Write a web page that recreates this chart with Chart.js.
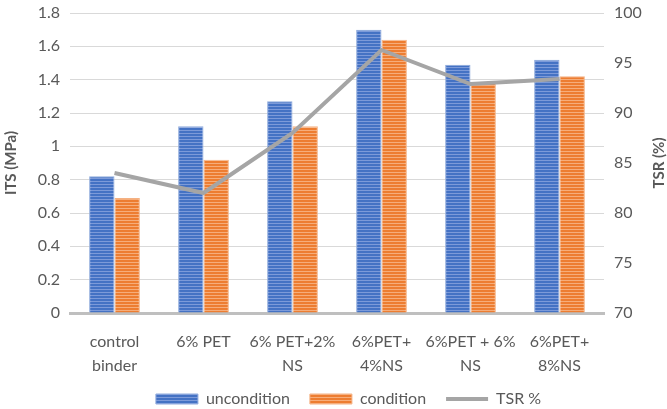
<!DOCTYPE html>
<html>
<head>
<meta charset="utf-8">
<script src="https://cdn.jsdelivr.net/npm/chart.js@4"></script>
<style>
  body { margin: 0; background: #fff; }
  #wrap { width: 667px; height: 409px; }
</style>
</head>
<body>
<div id="wrap"><canvas id="itsChart" width="667" height="409"></canvas></div>
<script>
const labels = [
    ['control', 'binder'],
    '6% PET',
    ['6% PET+2%', 'NS'],
    ['6%PET+', '4%NS'],
    ['6%PET + 6%', 'NS'],
    ['6%PET+', '8%NS']
]
const uncondition = [0.82, 1.12, 1.27, 1.70, 1.49, 1.52]
const condition = [0.69, 0.92, 1.12, 1.64, 1.38, 1.42]
const tsr = [84.0, 82.0, 88.0, 96.3, 92.9, 93.4]

// striped fills like the excel bars
function stripes(base, light) {
    const c = document.createElement('canvas')
    c.width = 4
    c.height = 3
    const g = c.getContext('2d')
    g.fillStyle = base
    g.fillRect(0, 0, 4, 3)
    g.fillStyle = light
    g.fillRect(0, 1, 4, 1)
    return g.createPattern(c, 'repeat')
}

const ctx = document.getElementById('itsChart').getContext('2d')
const blue = stripes('#4472C4', '#7c9ad9')
const orange = stripes('#ED7D31', '#f6ad7a')
const font = { family: 'Lato', size: 16 }
const titleFont = { family: 'Lato', size: 15, weight: 'bold' }

// right axis title reads bottom-to-top like excel
const rightTitle = {
    id: 'rightTitle',
    afterLayout(chart) {
        // let the two-line x labels run down into the legend band
        chart.scales.x.bottom = chart.height
        chart.legend.left += 14
        chart.legend.right += 14
    },
    afterDraw(chart) {
        const a = chart.chartArea
        const c = chart.ctx
        c.save()
        c.translate(659, (a.top + a.bottom) / 2)
        c.rotate(-Math.PI / 2)
        c.font = 'bold 15px Lato'
        c.fillStyle = '#595959'
        c.textAlign = 'center'
        c.textBaseline = 'middle'
        c.fillText('TSR (%)', 0, 0)
        c.restore()
    }
}

const data = {
    labels,
    datasets: [
        {
            type: 'line',
            label: 'TSR %',
            data: tsr,
            yAxisID: 'y1',
            borderColor: '#A5A5A5',
            backgroundColor: '#A5A5A5',
            borderWidth: 4,
            pointRadius: 0,
            tension: 0,
            pointStyle: 'line',
            order: 0,
        },
        {
            label: 'uncondition',
            data: uncondition,
            backgroundColor: blue,
            borderColor: '#8faadc',
            borderWidth: 1,
            pointStyle: 'rect',
            order: 1,
        },
        {
            label: 'condition',
            data: condition,
            backgroundColor: orange,
            borderColor: '#f4b183',
            borderWidth: 1,
            pointStyle: 'rect',
            order: 1,
        },
    ],
}

const config = {
    type: 'bar',
    data: data,
    plugins: [rightTitle],
    options: {
        responsive: false,
        animation: false,
        layout: { padding: { top: 13, left: 2, right: 0, bottom: -8 } },
        datasets: {
            bar: { barPercentage: 1, categoryPercentage: 0.57 },
        },
        plugins: {
            tooltip: { enabled: false },
            legend: {
                position: 'bottom',
                labels: {
                    font: font,
                    color: '#595959',
                    usePointStyle: true,
                    pointStyleWidth: 42,
                    boxHeight: 10,
                    padding: 20,
                    sort: (a, b) => (a.datasetIndex === 0 ? 1 : 0) - (b.datasetIndex === 0 ? 1 : 0),
                },
            },
        },
        scales: {
            x: {
                grid: { display: false, drawTicks: false },
                border: { color: '#BFBFBF', width: 3 },
                ticks: { font: { family: 'Lato', size: 16, lineHeight: 1.55 }, color: '#595959', padding: 16, maxRotation: 0, autoSkip: false },
                afterFit: (s) => { s.height = 58 },
            },
            y: {
                position: 'left',
                min: 0,
                max: 1.8,
                ticks: {
                    stepSize: 0.2, font: font, color: '#595959', padding: 10,
                    callback: (v) => String(Math.round(v * 10) / 10),
                },
                grid: { color: '#D9D9D9', drawTicks: false },
                border: { display: false },
                title: { display: true, text: 'ITS (MPa)', font: titleFont, color: '#595959', padding: 0 },
                afterFit: (s) => { s.width = 68; s.paddingTop = 0; s.paddingBottom = 0 },
            },
            y1: {
                position: 'right',
                min: 70,
                max: 100,
                ticks: { stepSize: 5, font: font, color: '#595959', padding: 10 },
                grid: { display: false, drawTicks: false },
                border: { display: false },
                afterFit: (s) => { s.width = 63; s.paddingTop = 0; s.paddingBottom = 0 },
            },
        },
    },
}

const myChart = new Chart(ctx, config)
</script>
</body>
</html>
